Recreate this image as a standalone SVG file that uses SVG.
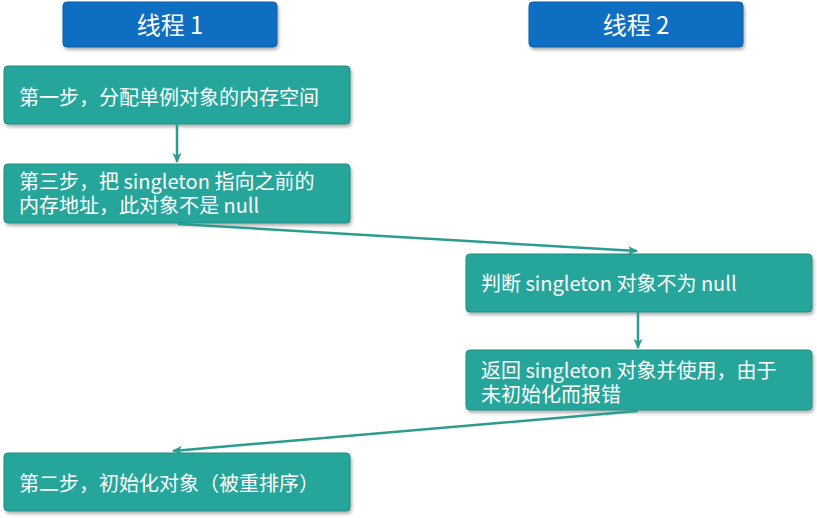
<svg xmlns="http://www.w3.org/2000/svg" width="817" height="518" viewBox="0 0 817 518">
<style>
.hdr{fill:#0B6EC2;stroke:#095CA3;stroke-width:1}
.box{fill:#26A69A;stroke:#1E8C80;stroke-width:1}
.ht{font-family:"Source Han Sans SC","Noto Sans CJK SC","Noto Sans",sans-serif;font-size:24px;fill:#fff;text-anchor:middle}
.bt{font-family:"Source Han Sans SC","Noto Sans CJK SC","Noto Sans",sans-serif;font-size:20px;fill:#fff}
.con{stroke:#2A9D90;stroke-width:2.5;fill:none;marker-end:url(#ah)}
</style>
<defs>
<filter id="sh" x="-10%" y="-20%" width="120%" height="150%">
<feDropShadow dx="1.5" dy="2.5" stdDeviation="1.5" flood-color="#000" flood-opacity="0.3"/>
</filter>
<marker id="ah" markerWidth="12" markerHeight="12" refX="9" refY="6" orient="auto" markerUnits="userSpaceOnUse">
<path d="M0,1.5 L10,6 L0,10.5 L2.5,6 Z" fill="#2A9D90"/>
</marker>
</defs>
<rect width="817" height="518" fill="#fff"/>
<g id="thread1">
<rect class="hdr" x="63" y="2" width="214" height="45" rx="4" filter="url(#sh)"/>
<text class="ht" x="170" y="33.5">线程 1</text>
</g>
<g id="thread2">
<rect class="hdr" x="529" y="2" width="214" height="45" rx="4" filter="url(#sh)"/>
<text class="ht" x="636" y="33.5">线程 2</text>
</g>
<g id="step1">
<rect class="box" x="4" y="66" width="346" height="58" rx="4" filter="url(#sh)"/>
<text class="bt" x="19" y="104.5">第一步，分配单例对象的内存空间</text>
</g>
<g id="step3">
<rect class="box" x="4" y="164" width="346" height="59" rx="4" filter="url(#sh)"/>
<text class="bt" x="19" y="188.5">第三步，把 singleton 指向之前的<tspan x="19" dy="24">内存地址，此对象不是 null</tspan></text>
</g>
<g id="judge">
<rect class="box" x="466" y="254" width="346" height="58" rx="4" filter="url(#sh)"/>
<text class="bt" x="481" y="291">判断 singleton 对象不为 null</text>
</g>
<g id="return">
<rect class="box" x="466" y="350" width="346" height="60" rx="4" filter="url(#sh)"/>
<text class="bt" x="481" y="378">返回 singleton 对象并使用，由于<tspan x="481" dy="24">未初始化而报错</tspan></text>
</g>
<g id="step2">
<rect class="box" x="4" y="453" width="346" height="58" rx="4" filter="url(#sh)"/>
<text class="bt" x="19" y="490.5">第二步，初始化对象（被重排序）</text>
</g>
<g id="connectors">
<line class="con" x1="177" y1="124" x2="177" y2="162"/>
<line class="con" x1="178" y1="224" x2="637" y2="251"/>
<line class="con" x1="638" y1="312" x2="638" y2="348"/>
<line class="con" x1="638" y1="411" x2="173" y2="451"/>
</g>
</svg>
